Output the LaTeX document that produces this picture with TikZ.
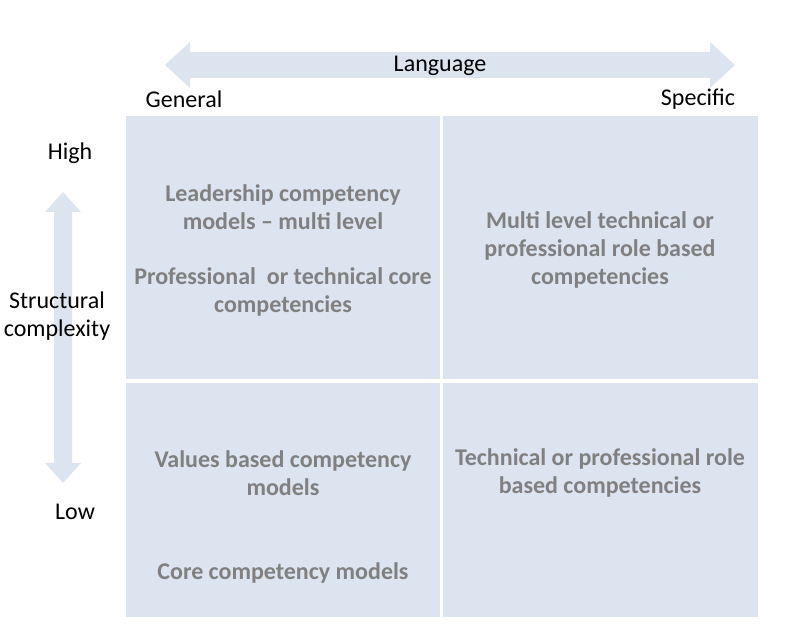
\documentclass[tikz,border=0pt]{standalone}
\usepackage{fontspec}
\setmainfont{Carlito}
\usetikzlibrary{positioning}
\definecolor{cellblue}{HTML}{DCE4F0}
\definecolor{arrowblue}{HTML}{DCE4F0}
\definecolor{celltext}{HTML}{808080}
\begin{document}
\begin{tikzpicture}[x=0.5pt, y=-0.5pt,
    cell/.style={fill=cellblue, draw=none},
    celltxt/.style={text=celltext, font=\bfseries\fontsize{12}{14.2}\selectfont, align=center},
    axis/.style={font=\fontsize{12}{14.2}\selectfont, align=center}]
        \useasboundingbox (0,0) rectangle (798,641);
        % quadrants
        \fill[cell] (126,116) rectangle (440,379);
        \fill[cell] (443,116) rectangle (758,379);
        \fill[cell] (126,383) rectangle (440,617);
        \fill[cell] (443,383) rectangle (758,617);

        % arrows
        \fill[arrowblue] (165,65) -- (190,42) -- (190,52) -- (710,52) -- (710,42) -- (735,65)
            -- (710,88) -- (710,78) -- (190,78) -- (190,88) -- cycle;
        \fill[arrowblue] (63,192) -- (81,212) -- (72,212) -- (72,463) -- (81,463) -- (63,483)
            -- (45,463) -- (54,463) -- (54,212) -- (45,212) -- cycle;

        % axis labels
        \node (lang) at (440,66) [axis] {Language};
        \node (gen) at (184,99) [axis] {General};
        \node (spec) at (698,99) [axis] {Specific};
        \node (high) at (70,153) [axis] {High};
        \node (low) at (75,512) [axis] {Low};
        \node (struct) at (57,316) [axis] {Structural\\complexity};

        % quadrant texts
        \node (lead) at (283,207) [celltxt] {Leadership competency\\models -- multi level};
        \node (prof) at (283,292) [celltxt] {Professional\ \ or technical core\\competencies};
        \node (multi) at (600,250) [celltxt] {Multi level technical or\\professional role based\\competencies};
        \node (values) at (283,473) [celltxt] {Values based competency\\models};
        \node (core) at (283,573) [celltxt] {Core competency models};
        \node (tech) at (600,473) [celltxt] {Technical or professional role\\based competencies};
    \end{tikzpicture}
\end{document}
